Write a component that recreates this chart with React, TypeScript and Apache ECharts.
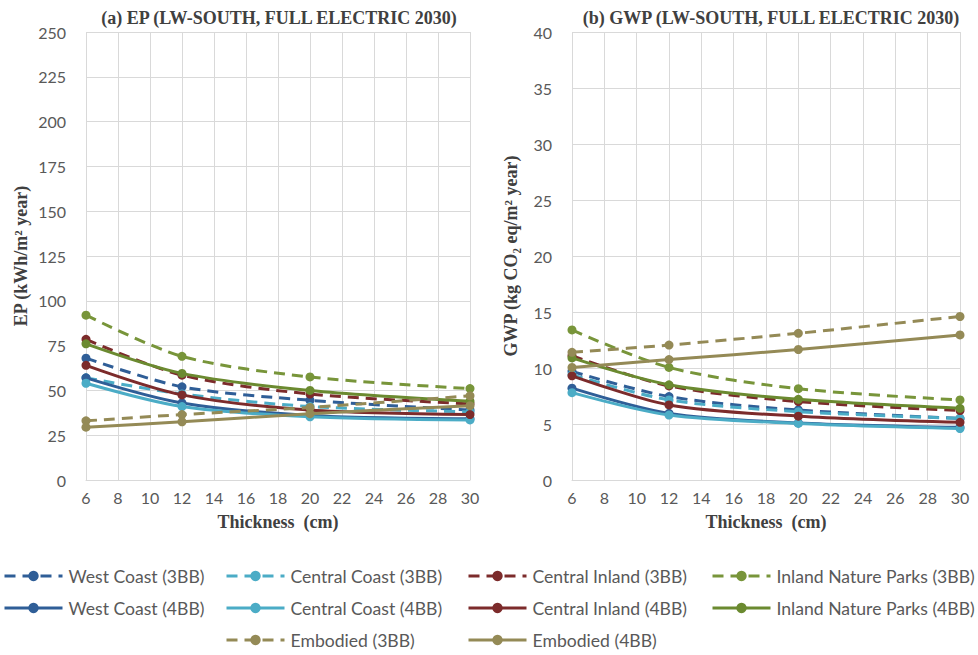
import React, { useEffect, useRef } from "react";
import * as echarts from "echarts";

const thickness = [6, 12, 20, 30];

const seriesNames = [
  "West Coast (3BB)",
  "Central Coast (3BB)",
  "Central Inland (3BB)",
  "Inland Nature Parks (3BB)",
  "West Coast (4BB)",
  "Central Coast (4BB)",
  "Central Inland (4BB)",
  "Inland Nature Parks (4BB)",
  "Embodied (3BB)",
  "Embodied (4BB)",
];

// EP (kWh/m2 year)
const epWestCoast3 = [68, 52, 44.5, 39];
const epCentralCoast3 = [57, 48, 41, 38];
const epCentralInland3 = [78.5, 58.5, 48, 42.5];
const epInland3 = [92, 69, 57.5, 51];
const epWestCoast4 = [57, 43, 36, 34.2];
const epCentralCoast4 = [54, 41, 35.3, 33.5];
const epCentralInland4 = [64, 47.5, 39, 36.5];
const epInland4 = [76, 59.5, 50, 44];
const epEmbodied3 = [33, 36.5, 40.5, 47];
const epEmbodied4 = [29.5, 32.5, 37, 41.5];

// GWP (kg CO2 eq/m2 year)
const gwpWestCoast3 = [9.7, 7.45, 6.25, 5.5];
const gwpCentralCoast3 = [9.4, 7.15, 6.1, 5.5];
const gwpCentralInland3 = [11.1, 8.4, 7.0, 6.2];
const gwpInland3 = [13.4, 10.05, 8.15, 7.15];
const gwpWestCoast4 = [8.2, 5.95, 5.1, 4.7];
const gwpCentralCoast4 = [7.8, 5.8, 5.05, 4.6];
const gwpCentralInland4 = [9.3, 6.7, 5.7, 5.15];
const gwpInland4 = [10.9, 8.5, 7.2, 6.4];
const gwpEmbodied3 = [11.4, 12.05, 13.1, 14.6];
const gwpEmbodied4 = [10.05, 10.75, 11.65, 12.95];

const epSeries = [
  epWestCoast3, epCentralCoast3, epCentralInland3, epInland3,
  epWestCoast4, epCentralCoast4, epCentralInland4, epInland4,
  epEmbodied3, epEmbodied4,
];
const gwpSeries = [
  gwpWestCoast3, gwpCentralCoast3, gwpCentralInland3, gwpInland3,
  gwpWestCoast4, gwpCentralCoast4, gwpCentralInland4, gwpInland4,
  gwpEmbodied3, gwpEmbodied4,
];

const colors = [
  "#2F5E97", "#4BACC6", "#7C2B2B", "#78953A",
  "#2F5E97", "#4BACC6", "#7C2B2B", "#6B8A30",
  "#948A56", "#948A56",
];
const dashed = [true, true, true, true, false, false, false, false, true, false];

const legendPos = [
  [3, 578], [225, 578], [467, 578], [711, 578],
  [3, 610], [225, 610], [467, 610], [711, 610],
  [225, 642], [467, 642],
];

const TICK_FONT = "Lato";
const SERIF = "Liberation Serif";

export default function App() {
  const ref = useRef<HTMLDivElement>(null);
  useEffect(() => {
    const chart = echarts.init(ref.current!, null, { renderer: "svg" });
    const grid = [
      { left: 86, top: 32, width: 384, height: 448 },
      { left: 572, top: 32, width: 388, height: 448 },
    ];
    const xAxisBase = (gi: number) => ({
      type: "value" as const,
      gridIndex: gi,
      min: 6,
      max: 30,
      interval: 2,
      name: "Thickness  (cm)",
      nameLocation: "middle" as const,
      nameGap: 33,
      nameTextStyle: { fontFamily: SERIF, fontWeight: "bold" as const, fontSize: 18, color: "#404040" },
      axisLine: { show: true, lineStyle: { color: "#D9D9D9", width: 1 } },
      axisTick: { show: false },
      axisLabel: { fontFamily: TICK_FONT, fontSize: 16, color: "#595959", margin: 9 },
      splitLine: { show: true, lineStyle: { color: "#D9D9D9", width: 1 } },
    });
    const yAxisBase = (gi: number, max: number, interval: number, name: string, gap: number) => ({
      type: "value" as const,
      gridIndex: gi,
      min: 0,
      max,
      interval,
      name,
      nameLocation: "middle" as const,
      nameGap: gap,
      nameTextStyle: { fontFamily: SERIF, fontWeight: "bold" as const, fontSize: 18, color: "#404040" },
      axisLine: { show: false },
      axisTick: { show: false },
      axisLabel: { fontFamily: TICK_FONT, fontSize: 16, color: "#595959", margin: 20 },
      splitLine: { show: true, lineStyle: { color: "#D9D9D9", width: 1 } },
    });
    const mk = (data: number[][], gi: number) =>
      data.map((vals, i) => ({
        name: seriesNames[i],
        type: "line" as const,
        xAxisIndex: gi,
        yAxisIndex: gi,
        data: thickness.map((t, k) => [t, vals[k]]),
        smooth: 0.3,
        symbol: "circle",
        symbolSize: 9,
        color: colors[i],
        itemStyle: { color: colors[i] },
        lineStyle: { color: colors[i], width: 3, type: dashed[i] ? [11, 7] : "solid" },
        z: 2 + i * 0.01,
      }));

    const legends = seriesNames.map((n, i) => ({
      show: true,
      data: [n],
      left: legendPos[i][0],
      top: legendPos[i][1] - 11,
      itemWidth: 58,
      itemHeight: 13,
      itemGap: 0,
      padding: 0,
      lineStyle: { width: 3 },
      textStyle: { fontFamily: TICK_FONT, fontSize: 17.6, color: "#595959", padding: [0, 0, 0, 1] },
      selectedMode: false,
    }));

    chart.setOption({
      animation: false,
      backgroundColor: "#ffffff",
      title: [
        {
          text: "(a) EP (LW-SOUTH, FULL ELECTRIC 2030)",
          left: 274,
          top: 4,
          textAlign: "center",
          textStyle: { fontFamily: SERIF, fontWeight: "bold", fontSize: 18, color: "#404040" },
        },
        {
          text: "(b) GWP (LW-SOUTH, FULL ELECTRIC 2030)",
          left: 766,
          top: 4,
          textAlign: "center",
          textStyle: { fontFamily: SERIF, fontWeight: "bold", fontSize: 18, color: "#404040" },
        },
      ],
      legend: legends,
      grid,
      xAxis: [xAxisBase(0), xAxisBase(1)],
      yAxis: [
        yAxisBase(0, 250, 25, "EP (kWh/m² year)", 56),
        yAxisBase(1, 40, 5, "GWP (kg CO₂ eq/m² year)", 52),
      ],
      series: [...mk(epSeries, 0), ...mk(gwpSeries, 1)],
    });
    return () => chart.dispose();
  }, []);
  return (
    <div
      ref={ref}
      style={{ position: "fixed", left: 0, top: 0, width: 978, height: 655 }}
    />
  );
}
